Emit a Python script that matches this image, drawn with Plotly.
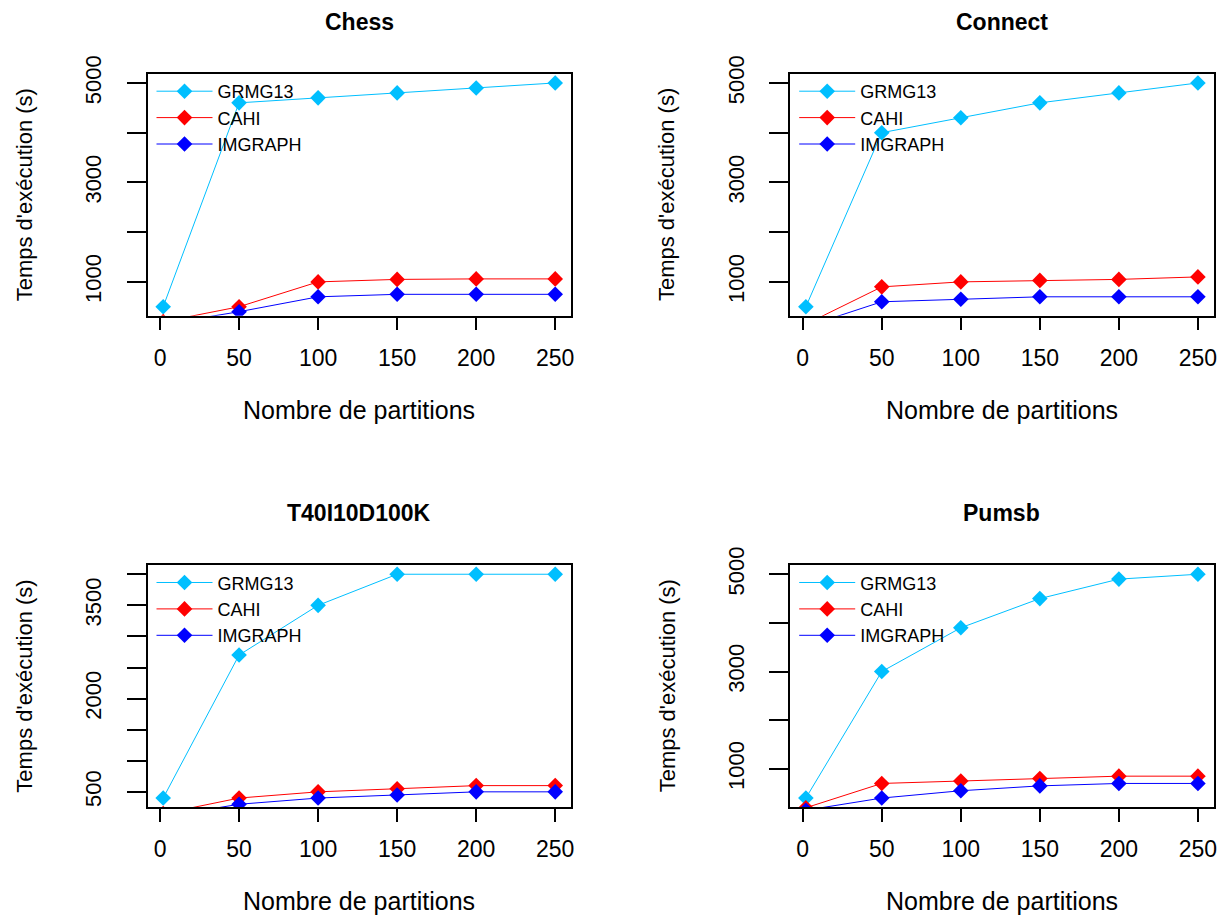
import plotly.graph_objects as go

# ---------------- data ----------------
partitions = [2, 50, 100, 150, 200, 250]
x_tickvals = [0, 50, 100, 150, 200, 250]

datasets = ["Chess", "Connect", "T40I10D100K", "Pumsb"]
series_names = ["GRMG13", "CAHI", "IMGRAPH"]
series_colors = ["#00BFFF", "#FF0000", "#0000FF"]

chess_grmg13 = [500, 4600, 4700, 4800, 4900, 5000]
chess_cahi = [200, 500, 1000, 1050, 1060, 1060]
chess_imgraph = [150, 400, 700, 750, 750, 750]

connect_grmg13 = [500, 4000, 4300, 4600, 4800, 5000]
connect_cahi = [150, 900, 1000, 1030, 1050, 1100]
connect_imgraph = [100, 600, 650, 700, 700, 700]

t40_grmg13 = [400, 2700, 3500, 4000, 4000, 4000]
t40_cahi = [150, 400, 500, 550, 600, 600]
t40_imgraph = [100, 300, 400, 450, 500, 500]

pumsb_grmg13 = [400, 3000, 3900, 4500, 4900, 5000]
pumsb_cahi = [200, 700, 750, 800, 850, 850]
pumsb_imgraph = [150, 400, 550, 650, 700, 700]

chess_yticks = [1000, 2000, 3000, 4000, 5000]
chess_ylabels = ["1000", "", "3000", "", "5000"]
connect_yticks = [1000, 2000, 3000, 4000, 5000]
connect_ylabels = ["1000", "", "3000", "", "5000"]
t40_yticks = [500, 1000, 1500, 2000, 2500, 3000, 3500, 4000]
t40_ylabels = ["500", "", "", "2000", "", "", "3500", ""]
pumsb_yticks = [1000, 2000, 3000, 4000, 5000]
pumsb_ylabels = ["1000", "", "3000", "", "5000"]

x_title = "Nombre de partitions"
y_title = "Temps d'exécution (s)"

panel_series = [
    [chess_grmg13, chess_cahi, chess_imgraph],
    [connect_grmg13, connect_cahi, connect_imgraph],
    [t40_grmg13, t40_cahi, t40_imgraph],
    [pumsb_grmg13, pumsb_cahi, pumsb_imgraph],
]
panel_yticks = [chess_yticks, connect_yticks, t40_yticks, pumsb_yticks]
panel_ylabels = [chess_ylabels, connect_ylabels, t40_ylabels, pumsb_ylabels]

# ---------------- layout geometry (pixels, in the reference picture) ----------------
W, H = 1231, 917
OFF = 8  # page body margin
FONT = "Liberation Sans, Arial, Helvetica, sans-serif"
box_x = [(147.5, 570.9), (790.2, 1213.6), (147.5, 570.9), (790.2, 1213.6)]
box_y = [(74, 315.7), (74, 315.7), (565.3, 807), (565.3, 807)]


def px_x(p):
    return (p - OFF) / W


def px_y(p):
    return 1 - (p - OFF) / H


def padded(vals):
    lo, hi = min(vals), max(vals)
    d = 0.04 * (hi - lo)
    return [lo - d, hi + d]


fig = go.Figure()
layout = dict(
    width=W, height=H,
    margin=dict(l=0, r=0, t=0, b=0, pad=0, autoexpand=False),
    paper_bgcolor="white", plot_bgcolor="white",
    font=dict(family=FONT, color="black"),
    showlegend=True,
)

annotations = []
xrange_ = padded(partitions)

for i in range(4):
    sfx = "" if i == 0 else str(i + 1)
    xa, ya = "x" + sfx, "y" + sfx
    leg = "legend" if i == 0 else "legend" + str(i + 1)
    for name, color, vals in zip(series_names, series_colors, panel_series[i]):
        fig.add_trace(go.Scatter(
            x=partitions, y=vals, name=name, mode="lines+markers",
            line=dict(color=color, width=1),
            marker=dict(symbol="diamond", size=12, color=color),
            xaxis=xa, yaxis=ya, legend=leg, showlegend=True,
        ))
    x0, x1 = box_x[i]
    y0, y1 = box_y[i]
    layout["xaxis" + sfx] = dict(
        domain=[px_x(x0), px_x(x1)], anchor=ya, range=xrange_,
        tickmode="array", tickvals=x_tickvals,
        ticks="outside", ticklen=13, tickwidth=1.5, tickcolor="black",
        showline=True, linecolor="black", linewidth=1.5, mirror=True,
        showgrid=False, zeroline=False, automargin=False,
        tickfont=dict(family=FONT, size=23, color="black"),
        ticklabelstandoff=8,
    )
    layout["yaxis" + sfx] = dict(
        domain=[px_y(y1), px_y(y0)], anchor=xa,
        range=padded(panel_series[i][0]),
        tickmode="array", tickvals=panel_yticks[i], ticktext=panel_ylabels[i],
        ticks="outside", ticklen=19, tickwidth=1.5, tickcolor="black",
        tickangle=-90,
        showline=True, linecolor="black", linewidth=1.5, mirror=True,
        showgrid=False, zeroline=False, automargin=False,
        tickfont=dict(family=FONT, size=22, color="black"),
        ticklabelstandoff=17,
    )
    layout[leg] = dict(
        x=px_x(x0 + 4), y=px_y(y0 - 1), xanchor="left", yanchor="top",
        bgcolor="rgba(0,0,0,0)", borderwidth=0,
        font=dict(family=FONT, size=18, color="black"),
        itemwidth=56, tracegroupgap=0,
    )
    cx = (x0 + x1) / 2
    annotations.append(dict(
        text="<b>" + datasets[i] + "</b>", x=px_x(cx), y=px_y(y0 - 52.5),
        xref="paper", yref="paper", showarrow=False,
        xanchor="center", yanchor="middle",
        font=dict(family=FONT, size=23, color="black"),
    ))
    annotations.append(dict(
        text=x_title, x=px_x(cx), y=px_y(y1 + 94),
        xref="paper", yref="paper", showarrow=False,
        xanchor="center", yanchor="middle",
        font=dict(family=FONT, size=25, color="black"),
    ))
    annotations.append(dict(
        text=y_title, x=px_x(x0 - 123), y=px_y((y0 + y1) / 2),
        xref="paper", yref="paper", showarrow=False, textangle=-90,
        xanchor="center", yanchor="middle",
        font=dict(family=FONT, size=22, color="black"),
    ))

layout["annotations"] = annotations
fig.update_layout(**layout)
fig.write_html("out.html")
